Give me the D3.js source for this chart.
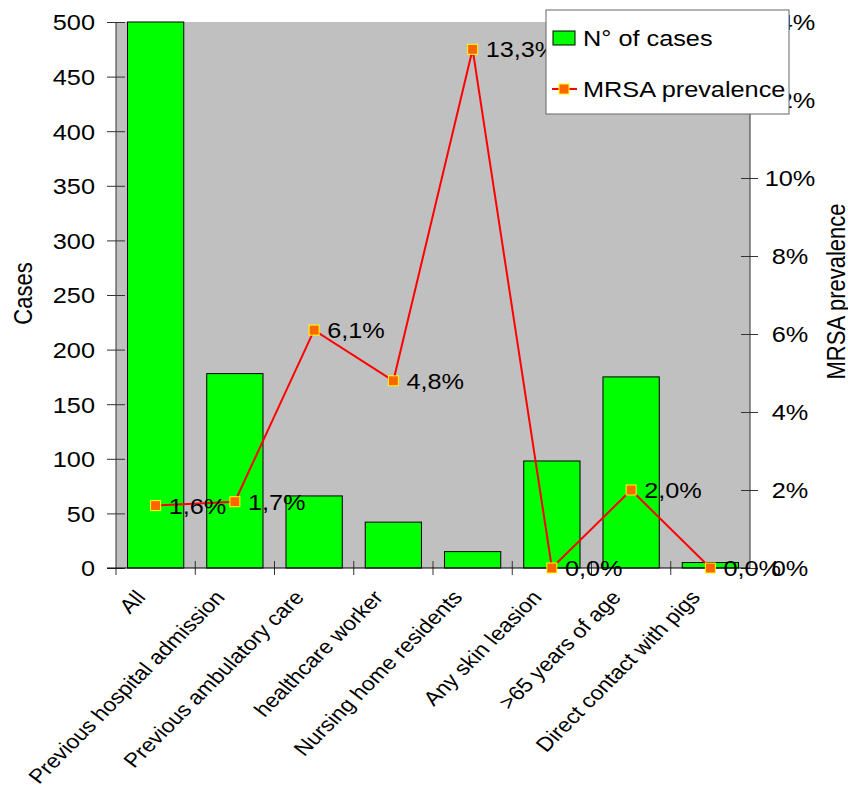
<!DOCTYPE html>
<html>
<head>
<meta charset="utf-8">
<script src="https://cdn.jsdelivr.net/npm/d3@7"></script>
<style>
  html, body { margin: 0; padding: 0; background: #fff; }
  svg { display: block; font-family: "Liberation Sans", Arial, sans-serif; }
</style>
</head>
<body>
<svg id="chart" width="848" height="785"></svg>
<script>
// Categories and series
const categories = [
  "All",
  "Previous hospital admission",
  "Previous ambulatory care",
  "healthcare worker",
  "Nursing home residents",
  "Any skin leasion",
  ">65 years of age",
  "Direct contact with pigs"
];
const cases = [500, 178, 66, 42, 15, 98, 175, 5];
const prevalence = [1.6, 1.7, 6.1, 4.8, 13.3, 0.0, 2.0, 0.0];
const prevalenceLabels = ["1,6%", "1,7%", "6,1%", "4,8%", "13,3%", "0,0%", "2,0%", "0,0%"];
const caseTicks = [0, 50, 100, 150, 200, 250, 300, 350, 400, 450, 500];
const prevTicks = [0, 2, 4, 6, 8, 10, 12, 14];

const svg = d3.select("#chart");
const plot = { left: 116, right: 750, top: 22, bottom: 568 };
const FS = 22;          // font size
const SX = 1.15;        // horizontal text stretch

const x = d3.scaleBand()
  .domain(categories)
  .range([plot.left, plot.right])
  .paddingInner(0.29)
  .paddingOuter(0.145);
const yCases = d3.scaleLinear().domain([0, 500]).range([plot.bottom, plot.top]);
const yPrev = d3.scaleLinear().domain([0, 14]).range([plot.bottom, plot.top]);
const cx = c => x(c) + x.bandwidth() / 2;

// stretched text helper
function stext(parent, px, py, str, anchor, rot, dy, size) {
  return parent.append("text")
    .attr("transform", `translate(${px},${py}) scale(${SX},1)` + (rot ? ` rotate(${rot})` : ""))
    .attr("text-anchor", anchor || "start")
    .attr("dy", dy || 0)
    .attr("font-size", size || FS)
    .attr("fill", "#000")
    .text(str);
}

// plot background
svg.append("rect")
  .attr("x", plot.left).attr("y", plot.top)
  .attr("width", plot.right - plot.left).attr("height", plot.bottom - plot.top)
  .attr("fill", "#c0c0c0");

// bars
svg.append("g").selectAll("rect")
  .data(categories)
  .join("rect")
  .attr("x", c => x(c))
  .attr("y", (c, i) => yCases(cases[i]))
  .attr("width", x.bandwidth())
  .attr("height", (c, i) => yCases(0) - yCases(cases[i]))
  .attr("fill", "#00ff00")
  .attr("stroke", "#000")
  .attr("stroke-width", 1);

// left axis
const leftAxis = svg.append("g")
  .attr("transform", `translate(${plot.left},0)`)
  .call(d3.axisLeft(yCases).tickValues(caseTicks).tickSizeInner(9).tickSizeOuter(0).tickFormat(d3.format("d")));
leftAxis.select(".domain").remove();
leftAxis.selectAll(".tick line").attr("x1", 9).attr("stroke", "#333");
leftAxis.selectAll(".tick text").remove();
leftAxis.selectAll(".tick").each(function (d) {
  stext(d3.select(this), -21, 0, String(d), "end", 0, "0.36em");
});
svg.append("line")
  .attr("x1", plot.left).attr("x2", plot.left)
  .attr("y1", plot.top).attr("y2", plot.bottom + 7)
  .attr("stroke", "#333");

// right axis
const rightAxis = svg.append("g")
  .attr("transform", `translate(${plot.right},0)`)
  .call(d3.axisRight(yPrev).tickValues(prevTicks).tickSizeInner(8).tickSizeOuter(0));
rightAxis.select(".domain").remove();
rightAxis.selectAll(".tick line").attr("x1", -9).attr("stroke", "#333");
rightAxis.selectAll(".tick text").remove();
rightAxis.selectAll(".tick").each(function (d) {
  stext(d3.select(this), 40, 0, d + "%", "middle", 0, "0.36em");
});
svg.append("line")
  .attr("x1", plot.right).attr("x2", plot.right)
  .attr("y1", plot.top).attr("y2", plot.bottom)
  .attr("stroke", "#333");

// category axis: ticks on band boundaries
const step = x.step();
const bounds = categories.map(c => x(c) - step * x.paddingInner() / 2).concat([plot.right]);
svg.append("g").selectAll("line")
  .data(bounds.slice(1, -1))
  .join("line")
  .attr("x1", d => d).attr("x2", d => d)
  .attr("y1", plot.bottom - 7).attr("y2", plot.bottom + 7)
  .attr("stroke", "#333");
svg.append("line")
  .attr("x1", plot.left - 9).attr("x2", plot.right)
  .attr("y1", plot.bottom).attr("y2", plot.bottom)
  .attr("stroke", "#000");

// category labels, slanted (about 45 degrees on screen after stretch)
const catG = svg.append("g");
categories.forEach(c => {
  stext(catG, cx(c) - 9, plot.bottom + 30, c, "end", -49, 0, 20);
});

// axis titles
stext(svg, 32, 293.5, "Cases", "middle", -90, 0);
stext(svg, 845, 291.5, "MRSA prevalence", "middle", -90, 0);

// prevalence line
const line = d3.line()
  .x((d, i) => cx(categories[i]))
  .y(d => yPrev(d));
svg.append("path")
  .datum(prevalence)
  .attr("d", line)
  .attr("fill", "none")
  .attr("stroke", "#ff0000")
  .attr("stroke-width", 2);

svg.append("g").selectAll("rect")
  .data(prevalence)
  .join("rect")
  .attr("x", (d, i) => cx(categories[i]) - 5)
  .attr("y", d => yPrev(d) - 5)
  .attr("width", 10).attr("height", 10)
  .attr("fill", "#ff6600")
  .attr("stroke", "#ffff00")
  .attr("stroke-width", 1);

// value labels
const labG = svg.append("g");
prevalence.forEach((d, i) => {
  stext(labG, cx(categories[i]) + 13, yPrev(d), prevalenceLabels[i], "start", 0, "0.36em");
});

// legend
const lg = svg.append("g");
lg.append("rect")
  .attr("x", 546).attr("y", 10).attr("width", 243).attr("height", 104)
  .attr("fill", "#fff").attr("stroke", "#666").attr("stroke-width", 1);
lg.append("rect")
  .attr("x", 553).attr("y", 31).attr("width", 22).attr("height", 14)
  .attr("fill", "#00ff00").attr("stroke", "#000");
stext(lg, 583, 38, "N° of cases", "start", 0, "0.36em");
lg.append("line")
  .attr("x1", 552).attr("x2", 577).attr("y1", 89).attr("y2", 89)
  .attr("stroke", "#ff0000").attr("stroke-width", 2);
lg.append("rect")
  .attr("x", 559).attr("y", 84).attr("width", 10).attr("height", 10)
  .attr("fill", "#ff6600").attr("stroke", "#ffff00");
stext(lg, 583, 89.5, "MRSA prevalence", "start", 0, "0.36em");
</script>
</body>
</html>
